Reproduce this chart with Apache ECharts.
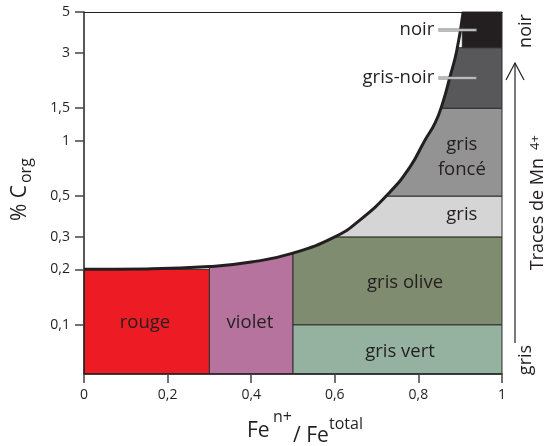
<!DOCTYPE html>
<html>
<head>
<meta charset="utf-8">
<script src="https://cdn.jsdelivr.net/npm/echarts@6/dist/echarts.min.js"></script>
<style>
  html, body { margin: 0; padding: 0; background: #fff; }
  #chart { width: 554px; height: 446px; }
</style>
</head>
<body>
<div id="chart"></div>
<script>
// bas de l'axe des C org (échelle log)
var C_MIN = 0.054;
var C_MAX = 5;

// zones de couleur : Fe n+/Fe total de .. à, % C org de .. à
var zoneNames = ['rouge', 'violet', 'gris vert', 'gris olive', 'gris', 'gris foncé', 'gris-noir', 'noir'];
var zoneFeFrom = [0, 0.3, 0.5, 0.5, 0.55, 0.65, 0.8, 0.905];
var zoneFeTo = [0.3, 0.5, 1, 1, 1, 1, 1, 1];
var zoneCFrom = [C_MIN, C_MIN, C_MIN, 0.1, 0.3, 0.5, 1.5, 3.2];
var zoneCTo = [0.2, 0.3, 0.1, 0.3, 0.5, 1.5, 3.2, C_MAX];

// courbe limite (au-dessus : blanc)
var curveFe = [0, 0.15, 0.3, 0.4, 0.5, 0.6, 0.66, 0.73, 0.78, 0.815, 0.84, 0.858, 0.875, 0.892, 0.907];
var curveC = [0.2, 0.201, 0.207, 0.219, 0.245, 0.3, 0.37, 0.52, 0.72, 1.0, 1.25, 1.6, 2.2, 3.1, 5];

// graduations de l'axe des C org
var cTicks = [0.1, 0.2, 0.3, 0.5, 1, 1.5, 3, 5];

var FONT = '"Open Sans", "DejaVu Sans", sans-serif';
var INK = '#231f20';

var zoneColors = {
    'rouge': '#ed1c24',
    'violet': '#b5739d',
    'gris vert': '#94b29f',
    'gris olive': '#7f8c6f',
    'gris': '#d5d5d6',
    'gris foncé': '#939393',
    'gris-noir': '#58585a',
    'noir': '#231f20'
};

// où poser le nom de chaque zone (coordonnées des données)
var labelSpots = {
    'rouge': {at: [0.146, 0.103]},
    'violet': {at: [0.397, 0.103]},
    'gris vert': {at: [0.756, 0.071]},
    'gris olive': {at: [0.768, 0.17]},
    'gris': {at: [0.904, 0.394]},
    'gris foncé': {at: [0.904, 0.815], text: 'gris\nfoncé'},
    'gris-noir': {at: [0.838, 2.19], align: 'right', leaderTo: 0.94},
    'noir': {at: [0.838, 3.99], align: 'right', leaderTo: 0.94}
};

var zoneData = zoneNames.map(function (n, i) {
    return {name: n, value: [zoneFeFrom[i], zoneFeTo[i], zoneCFrom[i], zoneCTo[i]]};
});
var curveData = curveFe.map(function (x, i) {
    return [x, curveC[i]];
});

function comma(v) {
    return String(+v.toFixed(2)).replace('.', ',');
}

var myChart = echarts.init(document.getElementById('chart'));

var option = {
    backgroundColor: '#fff',
    animation: false,
    textStyle: {fontFamily: FONT},
    grid: {left: 84, right: 52, top: 12, bottom: 72},
    xAxis: [{
        type: 'value',
        min: 0,
        max: 1,
        interval: 0.2,
        z: 10,
        axisLine: {lineStyle: {color: INK, width: 1.5}},
        axisTick: {show: true, length: 9, lineStyle: {color: '#444', width: 1.5}},
        axisLabel: {color: INK, fontSize: 14, margin: 14, formatter: comma, fontFamily: FONT},
        splitLine: {show: false}
    }, {
        type: 'value',
        position: 'top',
        min: 0,
        max: 1,
        z: 10,
        axisLine: {show: true, lineStyle: {color: INK, width: 1.2}},
        axisTick: {show: false},
        axisLabel: {show: false},
        splitLine: {show: false}
    }],
    yAxis: {
        type: 'log',
        logBase: 10,
        min: C_MIN,
        max: C_MAX,
        z: 10,
        axisLine: {show: true, lineStyle: {color: INK, width: 1.5}},
        axisTick: {show: true, length: 9, customValues: cTicks, lineStyle: {color: '#444', width: 1.5}},
        axisLabel: {color: INK, fontSize: 14, margin: 14, customValues: cTicks, formatter: comma, fontFamily: FONT},
        splitLine: {show: false},
        minorTick: {show: false}
    },
    series: [
        {
            // les zones colorées
            type: 'custom',
            z: 1,
            encode: {x: [0, 1], y: [2, 3]},
            data: zoneData,
            renderItem: function (params, api) {
                var p0 = api.coord([api.value(0), api.value(3)]);
                var p1 = api.coord([api.value(1), api.value(2)]);
                return {
                    type: 'rect',
                    shape: {x: p0[0], y: p0[1], width: p1[0] - p0[0], height: p1[1] - p0[1]},
                    style: {fill: zoneColors[zoneNames[params.dataIndex]], stroke: '#2e2e2e', lineWidth: 1}
                };
            }
        },
        {
            // courbe limite, tout ce qui est au-dessus est blanc
            type: 'line',
            z: 3,
            data: curveData,
            smooth: 0.5,
            symbol: 'none',
            lineStyle: {color: INK, width: 3},
            areaStyle: {color: '#fff', opacity: 1, origin: 'end'}
        },
        {
            // les noms des zones
            type: 'custom',
            z: 5,
            encode: {x: [0, 1], y: [2, 3]},
            data: zoneData,
            renderItem: function (params, api) {
                var name = zoneNames[params.dataIndex];
                var spot = labelSpots[name];
                var p = api.coord(spot.at);
                var kids = [];
                if (spot.leaderTo) {
                    var pe = api.coord([spot.leaderTo, spot.at[1]]);
                    kids.push({type: 'line', shape: {x1: p[0] + 4, y1: p[1], x2: pe[0], y2: p[1]},
                        style: {stroke: '#777', lineWidth: 3}});
                    kids.push({type: 'line', shape: {x1: p[0] + 4, y1: p[1], x2: pe[0] - 1, y2: p[1]},
                        style: {stroke: '#fff', lineWidth: 1}});
                }
                kids.push({
                    type: 'text',
                    x: p[0],
                    y: p[1],
                    style: {
                        text: spot.text || name,
                        fill: INK,
                        font: '18.5px ' + FONT,
                        align: spot.align || 'center',
                        verticalAlign: 'middle',
                        lineHeight: 25
                    }
                });
                return {type: 'group', children: kids};
            }
        }
    ],
    graphic: [
        // titre de l'axe vertical : % C org
        {
            type: 'group',
            x: 20,
            y: 189,
            rotation: Math.PI / 2,
            children: [
                {type: 'text', x: 4, y: 0, style: {text: '% C', font: '21px ' + FONT, fill: INK, align: 'right', verticalAlign: 'middle'}},
                {type: 'text', x: 6, y: 6, style: {text: 'org', font: '16px ' + FONT, fill: INK, align: 'left', verticalAlign: 'middle'}}
            ]
        },
        // titre de l'axe horizontal : Fe n+ / Fe total
        {type: 'text', x: 247, y: 431, style: {text: 'Fe', font: '21px ' + FONT, fill: INK, align: 'left', verticalAlign: 'middle'}},
        {type: 'text', x: 273, y: 417, style: {text: 'n+', font: '16px ' + FONT, fill: INK, align: 'left', verticalAlign: 'middle'}},
        {type: 'text', x: 293, y: 436, style: {text: '/ Fe', font: '21px ' + FONT, fill: INK, align: 'left', verticalAlign: 'middle'}},
        {type: 'text', x: 329, y: 424, style: {text: 'total', font: '16px ' + FONT, fill: INK, align: 'left', verticalAlign: 'middle'}},
        // flèche à droite : gris -> noir
        {type: 'line', shape: {x1: 515, y1: 343, x2: 515, y2: 63}, style: {stroke: INK, lineWidth: 1.2}},
        {type: 'polyline', shape: {points: [[506, 80], [515, 63], [524, 80]]}, style: {stroke: INK, lineWidth: 1.2, fill: null}},
        {type: 'text', x: 526, y: 31, rotation: Math.PI / 2, style: {text: 'noir', font: '18px ' + FONT, fill: INK, align: 'center', verticalAlign: 'middle'}},
        {type: 'text', x: 526, y: 360, rotation: Math.PI / 2, style: {text: 'gris', font: '18px ' + FONT, fill: INK, align: 'center', verticalAlign: 'middle'}},
        {
            type: 'group',
            x: 538,
            y: 218,
            rotation: Math.PI / 2,
            children: [
                {type: 'text', x: 60, y: 0, style: {text: 'Traces de Mn', font: '18px ' + FONT, fill: INK, align: 'right', verticalAlign: 'middle'}},
                {type: 'text', x: 68, y: -3, style: {text: '4+', font: '13px ' + FONT, fill: INK, align: 'left', verticalAlign: 'middle'}}
            ]
        }
    ]
};

myChart.setOption(option);
</script>
</body>
</html>
